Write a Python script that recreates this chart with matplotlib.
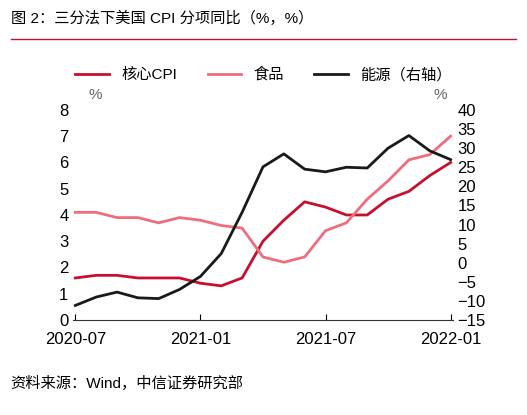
import matplotlib
matplotlib.use("Agg")
import matplotlib.pyplot as plt
import numpy as np

plt.rcParams['font.family'] = ['Liberation Sans', 'Noto Sans CJK SC', 'DejaVu Sans']

months = ["2020-07","2020-08","2020-09","2020-10","2020-11","2020-12","2021-01","2021-02","2021-03","2021-04","2021-05","2021-06","2021-07","2021-08","2021-09","2021-10","2021-11","2021-12","2022-01"]
core = [1.6,1.7,1.7,1.6,1.6,1.6,1.4,1.3,1.6,3.0,3.8,4.5,4.3,4.0,4.0,4.6,4.9,5.5,6.0]
food = [4.1,4.1,3.9,3.9,3.7,3.9,3.8,3.6,3.5,2.4,2.2,2.4,3.4,3.7,4.6,5.3,6.1,6.3,7.0]
energy = [-11.2,-9.0,-7.7,-9.2,-9.4,-7.0,-3.6,2.4,13.2,25.1,28.5,24.5,23.8,25.0,24.8,30.0,33.3,29.3,27.0]
tick_labels = ["2020-07","2021-01","2021-07","2022-01"]

fig = plt.figure(figsize=(5.27,4.15), dpi=100)
ax = fig.add_axes([0.139, 0.229, 0.72, 0.506])
x = np.arange(len(months))
l1, = ax.plot(x, core, color='#C8102E', lw=2, label='核心CPI')
l2, = ax.plot(x, food, color='#EE6E7E', lw=2, label='食品')
ax2 = ax.twinx()
l3, = ax2.plot(x, energy, color='#1a1a1a', lw=2, label='能源（右轴）')
ax.set_ylim(0, 8); ax.set_yticks(range(0, 9))
ax2.set_ylim(-15, 40); ax2.set_yticks(range(-15, 41, 5))
ax.set_xlim(-0.1, 18.1)
ax.set_xticks([0, 6, 12, 18]); ax.set_xticklabels(tick_labels)
for a in (ax, ax2):
    for s in a.spines.values():
        s.set_visible(False)
    a.tick_params(labelsize=12, length=0)
ax.spines['bottom'].set_visible(True)
ax.spines['bottom'].set_color('#333333')
ax.tick_params(axis='x', length=4, direction='in', pad=9)
ax.text(0.04, 1.05, '%', transform=ax.transAxes, fontsize=11, color='#666666', ha='left')
ax2.text(0.95, 1.05, '%', transform=ax.transAxes, fontsize=11, color='#666666', ha='left')
fig.legend(handles=[l1, l2, l3], loc='center', bbox_to_anchor=(0.5, 0.82), ncol=3, frameon=False, fontsize=11, handlelength=2.2, columnspacing=2)
fig.text(0.02, 0.955, '图 2：三分法下美国 CPI 分项同比（%，%）', fontsize=11, va='center')
fig.add_artist(plt.Line2D([0.02, 0.98], [0.905, 0.905], color='#C8102E', lw=1))
fig.text(0.02, 0.075, '资料来源：Wind，中信证券研究部', fontsize=11, va='center')
fig.savefig('out.png', dpi=100)
